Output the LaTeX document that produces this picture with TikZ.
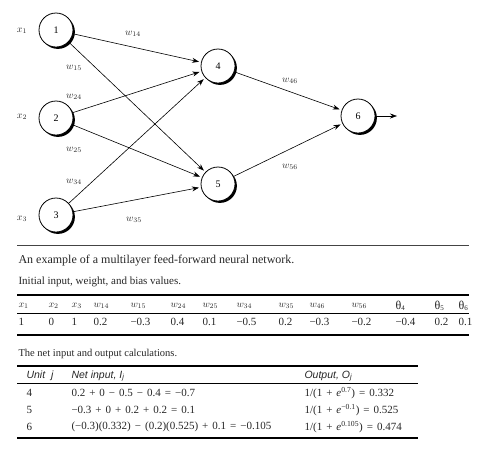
\documentclass[tikz,border=0pt]{standalone}
\usepackage{fontspec}
\setmainfont{Liberation Serif}
\setsansfont{Liberation Sans}
\usepackage{tikz}
\usetikzlibrary{arrows.meta,shadows}
\definecolor{rulegray}{HTML}{444444}
\definecolor{textgray}{HTML}{262626}
\newcommand{\bop}[1]{\hspace{4pt}#1\hspace{4pt}}
\newcommand{\thet}[1]{{\large θ}\textsubscript{#1}}

\begin{document}
\begin{tikzpicture}[x=1pt, y=-1pt,
    neuron/.style={circle, draw=black, line width=0.8pt, fill=white, minimum size=34pt, inner sep=0pt,
      font=\fontsize{10}{12}\selectfont,
      drop shadow={shadow xshift=1.9pt, shadow yshift=-1.9pt, opacity=1, fill=black}},
    conn/.style={-{Stealth[length=7pt,width=5pt]}, line width=0.6pt, shorten >=2pt},
    wlabel/.style={font=\fontsize{10}{12}\selectfont, text=textgray},
    caption/.style={anchor=west, font=\fontsize{11}{13}\selectfont, text=textgray},
    cell/.style={anchor=west, font=\fontsize{10}{12}\selectfont, text=textgray},
    calc/.style={anchor=west, font=\fontsize{11}{13}\selectfont, text=textgray},
    headcell/.style={anchor=west, font=\fontsize{10.5}{12}\selectfont\sffamily\itshape, text=textgray}]
  \useasboundingbox (0,0) rectangle (481,451);

  % Neurons
  \node[neuron] (n1) at (56,30)  {1};
  \node[neuron] (n2) at (56,118) {2};
  \node[neuron] (n3) at (56,215) {3};
  \node[neuron] (n4) at (218,66) {4};
  \node[neuron] (n5) at (218,184) {5};
  \node[neuron] (n6) at (358,116) {6};
  \coordinate (out) at (397,116);

  % Inputs
  \node[wlabel] (x1) at (22,31)  {$x_1$};
  \node[wlabel] (x2) at (22,117) {$x_2$};
  \node[wlabel] (x3) at (22,219) {$x_3$};

  % Connections
  \foreach \a/\b in {n1/n4, n1/n5, n2/n4, n2/n5, n3/n4, n3/n5, n4/n6, n5/n6} {
    \draw[conn] (\a) -- (\b);
  }
  \draw[conn, shorten >=0pt] (n6) -- (out);

  % Weights
  \node[wlabel] (w14) at (133,34)  {$w_{14}$};
  \node[wlabel] (w15) at (74,68)   {$w_{15}$};
  \node[wlabel] (w24) at (74,97)   {$w_{24}$};
  \node[wlabel] (w25) at (74,150)  {$w_{25}$};
  \node[wlabel] (w34) at (74,182)  {$w_{34}$};
  \node[wlabel] (w35) at (134,220) {$w_{35}$};
  \node[wlabel] (w46) at (290,81)  {$w_{46}$};
  \node[wlabel] (w56) at (290,167) {$w_{56}$};

  % Caption
  \draw[rulegray, line width=0.8pt] (17,245) -- (469,245);
  \node[caption, font=\fontsize{12}{14}\selectfont] (cap1) at (15,261) {An example of a multilayer feed-forward neural network.};

  % Table 1
  \node[caption] (cap2) at (15,282) {Initial input, weight, and bias values.};
  \draw[black, line width=1.6pt] (17,295) -- (469,295);
  \draw[black, line width=0.7pt] (17,313) -- (469,313);
  \draw[black, line width=1.6pt] (17,335) -- (469,335);
  \foreach \xpos/\head/\val [count=\i] in {15/$x_1$/1, 45/$x_2$/0, 68/$x_3$/1, 90/$w_{14}$/0.2,
      127/$w_{15}$/−0.3, 167/$w_{24}$/0.4, 199/$w_{25}$/0.1, 233/$w_{34}$/−0.5, 275/$w_{35}$/0.2,
      306/$w_{46}$/−0.3, 348/$w_{56}$/−0.2, 392/\thet{4}/−0.4, 431/\thet{5}/0.2,
      455/\thet{6}/0.1} {
    \node[cell] (h\i) at (\xpos,306) {\head};
    \node[cell, font=\fontsize{11}{13}\selectfont] (v\i) at (\xpos,322) {\val};
  }

  % Table 2
  \node[caption, font=\fontsize{10.5}{13}\selectfont] (cap3) at (15,354) {The net input and output calculations.};
  \draw[black, line width=1.6pt] (17,366) -- (418,366);
  \draw[black, line width=0.7pt] (17,383) -- (418,383);
  \draw[black, line width=1.6pt] (17,438) -- (418,438);
  \node[headcell] (unit) at (23,376) {Unit\ \ j};
  \node[headcell] (netin) at (68,376) {Net input, I\textsubscript{j}};
  \node[headcell] (outp) at (301,376) {Output, O\textsubscript{j}};
  \node[calc] (u4) at (23,393) {4};
  \node[calc] (u5) at (23,410) {5};
  \node[calc] (u6) at (23,427) {6};
  \node[calc] (i4) at (68,393) {0.2\bop{+}0\bop{−}0.5\bop{−}0.4\bop{=}−0.7};
  \node[calc] (i5) at (68,410) {−0.3\bop{+}0\bop{+}0.2\bop{+}0.2\bop{=}0.1};
  \node[calc] (i6) at (68,427) {(−0.3)(0.332)\bop{−}(0.2)(0.525)\bop{+}0.1\bop{=}−0.105};
  \node[calc] (o4) at (301,393) {1/(1\bop{+}\emph{e}\textsuperscript{0.7})\bop{=}0.332};
  \node[calc] (o5) at (301,410) {1/(1\bop{+}\emph{e}\textsuperscript{−0.1})\bop{=}0.525};
  \node[calc] (o6) at (301,427) {1/(1\bop{+}\emph{e}\textsuperscript{0.105})\bop{=}0.474};
\end{tikzpicture}
\end{document}
